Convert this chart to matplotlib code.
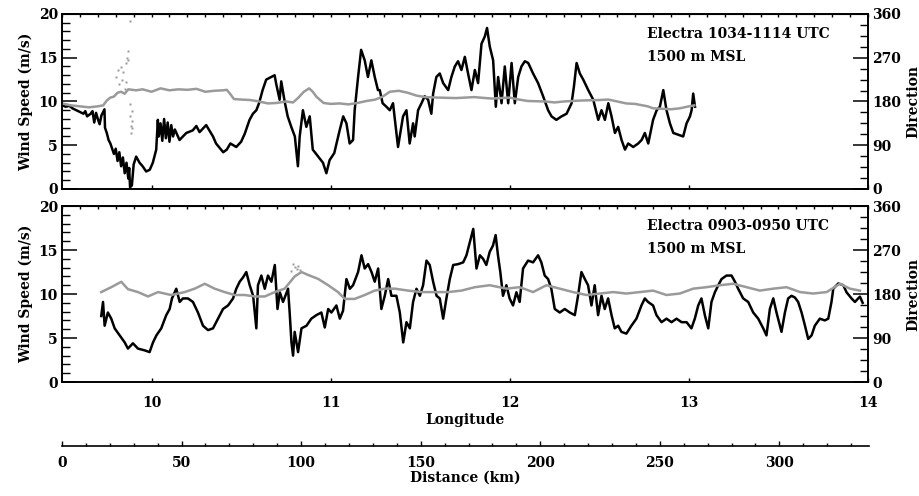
import numpy as np
import matplotlib
matplotlib.use("Agg")
import matplotlib.pyplot as plt
from matplotlib.ticker import MultipleLocator

plt.rcParams["font.family"] = ["DejaVu Serif"]
plt.rcParams["font.weight"] = "bold"
plt.rcParams["axes.labelweight"] = "bold"

# ── Data ──────────────────────────────────────────────────────────────────────
# Upper panel: Electra 1034-1114 UTC
top_lon = [
    9.50, 9.52, 9.54, 9.56, 9.58, 9.60, 9.62, 9.63, 9.64, 9.66, 9.67, 9.68, 9.69,
    9.70, 9.71, 9.72, 9.737, 9.74, 9.75, 9.76, 9.77, 9.78, 9.79, 9.80, 9.81, 9.82,
    9.83, 9.84, 9.85, 9.86, 9.87, 9.875, 9.88, 9.89, 9.895, 9.90, 9.914, 9.925,
    9.933, 9.95, 9.97, 9.99, 10.007, 10.026, 10.035, 10.04, 10.05, 10.06, 10.07,
    10.08, 10.09, 10.10, 10.11, 10.12, 10.13, 10.156, 10.194, 10.23, 10.25,
    10.268, 10.305, 10.343, 10.36, 10.40, 10.42, 10.44, 10.473, 10.50, 10.52,
    10.547, 10.566, 10.585, 10.60, 10.62, 10.64, 10.668, 10.687, 10.696, 10.715,
    10.724, 10.743, 10.76, 10.78, 10.80, 10.817, 10.827, 10.845, 10.864, 10.883,
    10.90, 10.93, 10.957, 10.976, 10.994, 11.02, 11.05, 11.07, 11.088, 11.106,
    11.125, 11.134, 11.153, 11.17, 11.19, 11.208, 11.227, 11.246, 11.264,
    11.274, 11.29, 11.311, 11.33, 11.348, 11.376, 11.404, 11.423, 11.441, 11.46,
    11.469, 11.488, 11.507, 11.525, 11.544, 11.562, 11.572, 11.59, 11.609,
    11.628, 11.656, 11.674, 11.693, 11.711, 11.73, 11.749, 11.767, 11.786,
    11.805, 11.823, 11.842, 11.86, 11.873, 11.888, 11.907, 11.922, 11.935,
    11.954, 11.972, 11.991, 12.01, 12.028, 12.047, 12.065, 12.084, 12.103,
    12.13, 12.158, 12.186, 12.214, 12.233, 12.26, 12.289, 12.317, 12.345,
    12.358, 12.373, 12.391, 12.41, 12.438, 12.466, 12.494, 12.512, 12.531,
    12.55, 12.568, 12.587, 12.605, 12.624, 12.643, 12.661, 12.689, 12.717,
    12.736, 12.754, 12.773, 12.80, 12.82, 12.838, 12.857, 12.875, 12.894,
    12.913, 12.94, 12.968, 12.987, 13.006, 13.015, 13.024, 13.034,
]
top_speed = [
    9.6, 9.4, 9.5, 9.2, 9.0, 8.8, 8.6, 8.9, 8.3, 8.6, 8.9, 7.6, 8.7,
    8.0, 7.4, 8.4, 9.1, 7.0, 6.4, 5.6, 5.2, 4.6, 4.0, 4.6, 3.2, 4.2,
    2.6, 3.6, 1.8, 3.0, 1.2, 2.4, 0.2, 0.4, 1.6, 2.8, 3.7, 3.3,
    3.0, 2.6, 2.0, 2.2, 3.0, 4.5, 7.9, 6.0, 7.5, 5.5, 8.0,
    5.8, 7.6, 5.4, 7.3, 6.0, 6.8, 5.6, 6.4, 6.7, 7.2,
    6.5, 7.3, 6.0, 5.2, 4.2, 4.5, 5.2, 4.8, 5.4, 6.3,
    7.9, 8.6, 9.0, 9.8, 11.3, 12.5, 12.8, 13.0, 12.0, 10.2,
    12.3, 10.0, 8.3, 7.1, 6.0, 2.6, 6.0, 9.0, 7.1, 8.3,
    4.5, 3.7, 3.0, 1.8, 3.3, 4.1, 6.7, 8.3, 7.5, 5.2,
    5.6, 9.0, 12.8, 15.9, 14.7, 12.8, 14.7, 12.8, 11.3,
    11.3, 9.8, 9.4, 9.0, 9.8, 4.8, 8.3, 9.0, 5.2, 7.5,
    6.0, 9.0, 9.8, 10.6, 10.2, 8.6, 10.9, 12.8, 13.2,
    12.1, 11.3, 12.8, 14.0, 14.6, 13.6, 15.1, 13.2, 11.3,
    13.6, 12.1, 16.6, 17.4, 18.4, 16.3, 14.7, 9.4, 12.8,
    9.8, 14.0, 9.8, 14.4, 9.8, 12.8, 14.0, 14.6, 14.4,
    13.2, 12.1, 10.6, 9.0, 8.3, 7.9, 8.3, 8.6, 9.8,
    11.7, 14.4, 13.2, 12.5, 11.3, 10.2, 7.9, 9.0, 7.9,
    9.8, 8.3, 6.4, 7.1, 5.6, 4.5, 5.2, 4.8, 5.2,
    5.6, 6.4, 5.2, 7.9, 9.0, 9.4, 11.3, 9.0, 7.5,
    6.4, 6.2, 6.0, 7.5, 8.3, 9.0, 10.9, 9.4,
]
top_dir_lon = [
    9.50, 9.55, 9.60, 9.65, 9.70, 9.73, 9.75, 9.77, 9.79, 9.81, 9.83, 9.85,
    9.87, 9.914, 9.95, 10.0, 10.05, 10.1, 10.15, 10.2, 10.25, 10.3, 10.35,
    10.40, 10.42, 10.44, 10.46, 10.50, 10.55, 10.60, 10.65, 10.70, 10.75,
    10.79, 10.82, 10.85, 10.88, 10.90, 10.92, 10.96, 11.0, 11.05, 11.10,
    11.15, 11.20, 11.25, 11.29, 11.33, 11.38, 11.43, 11.48, 11.53, 11.6,
    11.7, 11.8, 11.9, 12.0, 12.05, 12.1, 12.2, 12.25, 12.3, 12.4, 12.5,
    12.55, 12.6, 12.65, 12.70, 12.77, 12.8, 12.85, 12.9, 12.95, 13.0, 13.03,
]
top_dir = [
    176, 172, 170, 168, 170, 172, 182, 188, 190, 198, 200, 196,
    205, 203, 205, 200, 207, 203, 205, 204, 206, 200, 202,
    203, 204, 195, 185, 184, 183, 180, 176, 177, 180,
    178, 188, 200, 207, 200, 190, 177, 175, 176, 174,
    177, 181, 184, 190, 200, 202, 198, 192, 189, 188,
    187, 189, 186, 188, 184, 181, 180, 178, 180, 182, 183,
    184, 180, 176, 175, 170, 166, 165, 164, 166, 170, 172,
]
top_dir_extra_lon = [
    9.80, 9.81, 9.82, 9.83, 9.835, 9.84, 9.85, 9.855, 9.86, 9.865, 9.868,
    9.870, 9.877, 9.880, 9.882, 9.884, 9.886, 9.888, 9.89, 9.893,
]
top_dir_extra = [
    230, 245, 215, 250, 225, 240, 205, 260, 220, 270, 283,
    266, 346, 175, 150, 130, 115, 160, 140, 125,
]

# Lower panel: Electra 0903-0950 UTC
bot_lon = [
    9.719, 9.729, 9.738, 9.756, 9.775, 9.794, 9.822, 9.85, 9.868, 9.896, 9.924,
    9.961, 9.989, 10.008, 10.027, 10.054, 10.082, 10.101, 10.114, 10.138,
    10.157, 10.175, 10.203, 10.231, 10.259, 10.287, 10.315, 10.343, 10.371,
    10.399, 10.427, 10.455, 10.473, 10.492, 10.511, 10.529, 10.548, 10.567,
    10.585, 10.594, 10.613, 10.632, 10.65, 10.669, 10.688, 10.703, 10.716,
    10.734, 10.762, 10.771, 10.781, 10.79, 10.799, 10.818, 10.837, 10.865,
    10.892, 10.92, 10.948, 10.967, 10.986, 11.004, 11.032, 11.051, 11.069,
    11.088, 11.107, 11.125, 11.153, 11.172, 11.19, 11.209, 11.228, 11.246,
    11.265, 11.283, 11.302, 11.321, 11.339, 11.367, 11.386, 11.405, 11.423,
    11.442, 11.46, 11.479, 11.498, 11.516, 11.535, 11.553, 11.572, 11.591,
    11.609, 11.628, 11.646, 11.665, 11.684, 11.712, 11.74, 11.758, 11.777,
    11.796, 11.814, 11.833, 11.851, 11.869, 11.888, 11.906, 11.921, 11.934,
    11.947, 11.962, 11.981, 11.999, 12.018, 12.037, 12.055, 12.074, 12.102,
    12.13, 12.158, 12.176, 12.195, 12.214, 12.232, 12.251, 12.279, 12.307,
    12.335, 12.363, 12.381, 12.4, 12.419, 12.437, 12.456, 12.474, 12.493,
    12.512, 12.53, 12.549, 12.568, 12.586, 12.605, 12.623, 12.651, 12.679,
    12.707, 12.735, 12.754, 12.772, 12.80, 12.819, 12.847, 12.875, 12.903,
    12.931, 12.959, 12.987, 13.014, 13.033, 13.052, 13.07, 13.089, 13.108,
    13.126, 13.145, 13.164, 13.182, 13.21, 13.238, 13.257, 13.275, 13.303,
    13.331, 13.359, 13.387, 13.415, 13.433, 13.452, 13.471, 13.489, 13.517,
    13.536, 13.554, 13.573, 13.592, 13.61, 13.629, 13.648, 13.666, 13.685,
    13.703, 13.731, 13.759, 13.778, 13.796, 13.806, 13.834, 13.862, 13.88,
    13.908, 13.927, 13.945, 13.955, 13.97,
]
bot_speed = [
    7.5, 9.1, 6.4, 7.9, 7.2, 6.1, 5.3, 4.5, 3.8, 4.4, 3.8,
    3.6, 3.4, 4.5, 5.3, 6.1, 7.6, 8.3, 9.5, 10.6,
    9.1, 9.5, 9.5, 9.1, 7.9, 6.4, 5.9, 6.1, 7.2,
    8.3, 8.7, 9.5, 10.6, 11.4, 11.9, 12.5, 11.0, 9.8,
    6.1, 11.0, 12.1, 10.6, 12.1, 11.4, 13.3, 8.3, 10.2,
    9.1, 10.6, 7.9, 4.5, 3.0, 5.7, 3.4, 6.1, 6.4,
    7.2, 7.6, 7.9, 6.2, 8.3, 7.9, 8.7, 7.2, 8.1,
    11.7, 10.6, 11.0, 12.5, 14.4, 12.9, 13.4, 12.5, 11.4,
    12.9, 8.3, 9.8, 11.7, 9.8, 9.8, 7.9, 4.5, 6.8,
    6.1, 9.1, 10.6, 9.8, 11.0, 13.8, 13.3, 11.4, 9.8,
    9.5, 7.2, 9.5, 11.7, 13.3, 13.4, 13.6, 14.4, 15.9,
    17.4, 12.9, 14.4, 14.0, 13.3, 14.8, 15.5, 16.7, 14.4,
    12.5, 9.8, 11.0, 9.5, 8.7, 10.2, 9.1, 12.9, 13.8,
    13.6, 14.4, 13.6, 12.1, 11.7, 10.6, 8.3, 7.9, 8.3,
    7.9, 7.6, 9.8, 12.5, 11.7, 11.0, 8.7, 11.0, 7.6,
    9.8, 8.3, 9.5, 7.6, 6.1, 6.4, 5.7, 5.5, 6.4,
    7.2, 8.7, 9.5, 9.1, 8.7, 7.6, 6.8, 7.2, 6.8,
    7.2, 6.8, 6.8, 6.1, 7.2, 8.7, 9.5, 7.6, 6.1,
    9.1, 10.2, 11.0, 11.7, 12.1, 12.1, 11.4, 10.6, 9.5,
    9.1, 7.9, 7.2, 6.1, 5.3, 8.3, 9.5, 7.9, 5.7,
    7.9, 9.5, 9.8, 9.6, 9.1, 7.9, 6.4, 4.9, 5.3,
    6.4, 7.2, 7.0, 7.2, 9.1, 10.6, 11.2, 11.0, 10.2,
    9.5, 9.1, 9.5, 9.7, 9.0,
]
bot_dir_lon = [
    9.719, 9.775, 9.831, 9.868, 9.924, 9.98, 10.036, 10.110, 10.185, 10.241,
    10.297, 10.352, 10.408, 10.464, 10.52, 10.576, 10.632, 10.688, 10.743,
    10.799, 10.837, 10.874, 10.93, 10.986, 11.041, 11.079, 11.134, 11.19,
    11.246, 11.302, 11.358, 11.432, 11.507, 11.581, 11.656, 11.73, 11.805,
    11.888, 11.981, 12.055, 12.13, 12.204, 12.279, 12.353, 12.428, 12.502,
    12.577, 12.651, 12.726, 12.8, 12.875, 12.949, 13.024, 13.098, 13.173,
    13.247, 13.322, 13.396, 13.471, 13.545, 13.62, 13.694, 13.769, 13.843,
    13.899, 13.955,
]
bot_dir = [
    184, 194, 205, 190, 184, 175, 184, 178, 184, 191,
    201, 191, 184, 178, 178, 175, 175, 184, 191,
    216, 225, 219, 211, 198, 184, 170, 170, 178,
    187, 191, 191, 187, 184, 184, 184, 187, 194,
    198, 191, 194, 184, 198, 191, 184, 178, 181,
    184, 181, 184, 187, 178, 181, 191, 194, 198,
    201, 194, 187, 191, 194, 184, 181, 184, 201,
    191, 187,
]
bot_dir_extra_lon = [10.78, 10.79, 10.80, 10.81, 10.82, 10.83]
bot_dir_extra = [228, 241, 236, 232, 238, 230]

KM_PER_DEG = 75.0  # distance scale along the flight track

# ── Figure ────────────────────────────────────────────────────────────────────
fig = plt.figure(figsize=(9.2, 4.96), dpi=100)

ax_top = fig.add_axes([0.0674, 0.619, 0.8761, 0.3528])
ax_bot = fig.add_axes([0.0674, 0.2298, 0.8761, 0.3548])
ax_dist = fig.add_axes([0.0674, 0.1008, 0.8772, 0.0001])

panels = [
    (ax_top, top_lon, top_speed, top_dir_lon, top_dir, top_dir_extra_lon,
     top_dir_extra, "Electra 1034-1114 UTC"),
    (ax_bot, bot_lon, bot_speed, bot_dir_lon, bot_dir, bot_dir_extra_lon,
     bot_dir_extra, "Electra 0903-0950 UTC"),
]

for ax, lon, spd, dlon, ddir, xlon, xdir, label in panels:
    ax.plot(lon, spd, color="black", lw=1.8)
    ax.set_xlim(9.5, 14.0)
    ax.set_ylim(0, 20)
    ax.yaxis.set_major_locator(MultipleLocator(5))
    ax.yaxis.set_minor_locator(MultipleLocator(1))
    ax.xaxis.set_major_locator(MultipleLocator(1))
    ax.tick_params(axis="y", which="major", direction="in", length=11,
                   width=1.1, labelsize=10, pad=3)
    ax.tick_params(axis="y", which="minor", direction="in", length=5.5,
                   width=1.0)
    ax.tick_params(axis="x", which="major", direction="in", length=3,
                   width=1.0, labelsize=10, pad=10)
    for sp in ax.spines.values():
        sp.set_linewidth(1.2)
    ax.set_ylabel("Wind Speed (m/s)", fontsize=10, labelpad=4)

    top = ax.secondary_xaxis("top")
    top.set_xticks(np.arange(9.5, 14.01, 0.1))
    top.tick_params(direction="in", length=2.5, width=1.0, labeltop=False)

    axr = ax.twinx()
    axr.plot(dlon, ddir, color="#9a9a9a", lw=1.8)
    axr.plot(xlon, xdir, ls="none", marker="s", ms=2.0, color="#9a9a9a",
             mec="none")
    axr.set_ylim(0, 360)
    axr.yaxis.set_major_locator(MultipleLocator(90))
    axr.yaxis.set_minor_locator(MultipleLocator(22.5))
    axr.tick_params(axis="y", which="major", direction="in", length=11,
                    width=1.1, labelsize=10, pad=3)
    axr.tick_params(axis="y", which="minor", direction="in", length=5.5,
                    width=1.0)
    for sp in axr.spines.values():
        sp.set_linewidth(1.2)

    ax.text(0.726, 0.885, label, transform=ax.transAxes, fontsize=10,
            va="center", ha="left")
    ax.text(0.726, 0.755, "1500 m MSL", transform=ax.transAxes, fontsize=10,
            va="center", ha="left")

    pos = ax.get_position()
    fig.text(0.993, (pos.y0 + pos.y1) / 2, "Direction", rotation=90,
             fontsize=10, ha="center", va="center")

ax_top.tick_params(axis="x", labelbottom=False)
ax_bot.set_xlabel("Longitude", fontsize=10, labelpad=2)

# Distance axis under the panels
for name, sp in ax_dist.spines.items():
    sp.set_visible(name == "bottom")
ax_dist.spines["bottom"].set_linewidth(1.2)
ax_dist.set_xlim(0, (14.0 - 9.5) * KM_PER_DEG)
ax_dist.set_yticks([])
ax_dist.xaxis.set_major_locator(MultipleLocator(50))
ax_dist.xaxis.set_minor_locator(MultipleLocator(10))
ax_dist.tick_params(axis="x", which="major", direction="in", length=3.5,
                    width=1.0, labelsize=10, pad=7)
ax_dist.tick_params(axis="x", which="minor", direction="in", length=2,
                    width=1.0)
ax_dist.set_xlabel("Distance (km)", fontsize=10, labelpad=1)
ax_dist.patch.set_visible(False)

fig.savefig("out.png", dpi=100)
